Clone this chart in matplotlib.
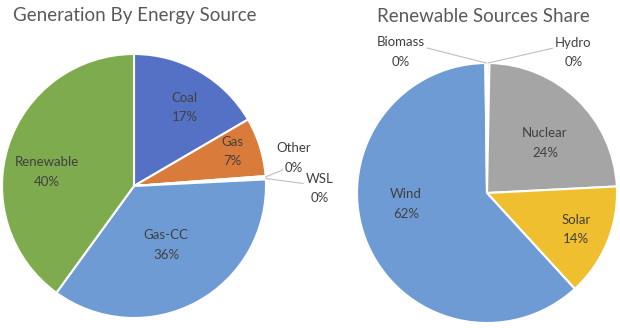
"""Two pie charts: generation mix and renewable sources share."""

import matplotlib

matplotlib.use("Agg")
import matplotlib.pyplot as plt
import numpy as np

plt.rcParams["font.family"] = ["Lato", "DejaVu Sans"]

W, H = 620, 328

GEN_TITLE = "Generation By Energy Source"
GEN_LABELS = ["Coal", "Gas", "Other", "WSL", "Gas-CC", "Renewable"]
GEN_VALUES = [16.6, 7.2, 0.2, 0.2, 35.8, 40.0]
GEN_COLORS = ["#5571C5", "#D97B3A", "#A5A5A5", "#EDBE2F", "#6F9BD5", "#7FAB4F"]

REN_TITLE = "Renewable Sources Share"
REN_LABELS = ["Hydro", "Nuclear", "Solar", "Wind", "Biomass"]
REN_VALUES = [0.3, 23.9, 14.0, 61.6, 0.2]
REN_COLORS = ["#5571C5", "#A5A5A5", "#EFBF2F", "#6F9BD5", "#B8CCE8"]

# label layout: (radius factor, angle offset from wedge middle, leader end offset px or None)
GEN_LAYOUT = [(0.71, -3, None), (0.79, 2, None), (1.23, 6, (-11, -12)),
              (1.41, -4, (-17, 5)), (0.51, 0, None), (0.67, 9, None)]
REN_LAYOUT = [(1.27, -31, (-21, 4)), (0.59, -5, None), (0.74, 0, None),
              (0.63, -14, None), (1.27, 31, (26, 4))]

TEXT = "#404040"


def draw_pie(fig, center, radius, values, labels, colors, layout):
    cx, cy = center
    ax = fig.add_axes([(cx - radius) / W, (H - cy - radius) / H, 2 * radius / W, 2 * radius / H])
    wedges, _ = ax.pie(values, colors=colors, startangle=90, counterclock=False, radius=1,
                       wedgeprops=dict(edgecolor="white", linewidth=1.5))
    total = sum(values)
    for wedge, label, value, (dist, offset, leader) in zip(wedges, labels, values, layout):
        mid = np.deg2rad((wedge.theta1 + wedge.theta2) / 2)
        ang = mid + np.deg2rad(offset)
        x, y = dist * np.cos(ang), dist * np.sin(ang)
        ax.text(x, y, f"{label}\n{round(value / total * 100)}%", ha="center", va="center",
                fontsize=9.5, color=TEXT, linespacing=1.75)
        if leader is not None:
            ex, ey = x + leader[0] / radius, y + leader[1] / radius
            ax.plot([np.cos(mid), ex], [np.sin(mid), ey], color="#BFBFBF", lw=0.8, clip_on=False)
    ax.set_xlim(-1, 1)
    ax.set_ylim(-1, 1)
    ax.set_aspect("equal")
    ax.axis("off")
    return ax


def main():
    fig = plt.figure(figsize=(W / 100, H / 100), dpi=100)
    draw_pie(fig, (134, 186), 132, GEN_VALUES, GEN_LABELS, GEN_COLORS, GEN_LAYOUT)
    draw_pie(fig, (487, 193), 130, REN_VALUES, REN_LABELS, REN_COLORS, REN_LAYOUT)
    fig.text(135 / W, 1 - 16 / H, GEN_TITLE, ha="center", va="center", fontsize=13.5, color="#595959")
    fig.text(483 / W, 1 - 16 / H, REN_TITLE, ha="center", va="center", fontsize=13.5, color="#595959")
    fig.savefig("out.png", dpi=100)
    plt.close(fig)


if __name__ == "__main__":
    main()
